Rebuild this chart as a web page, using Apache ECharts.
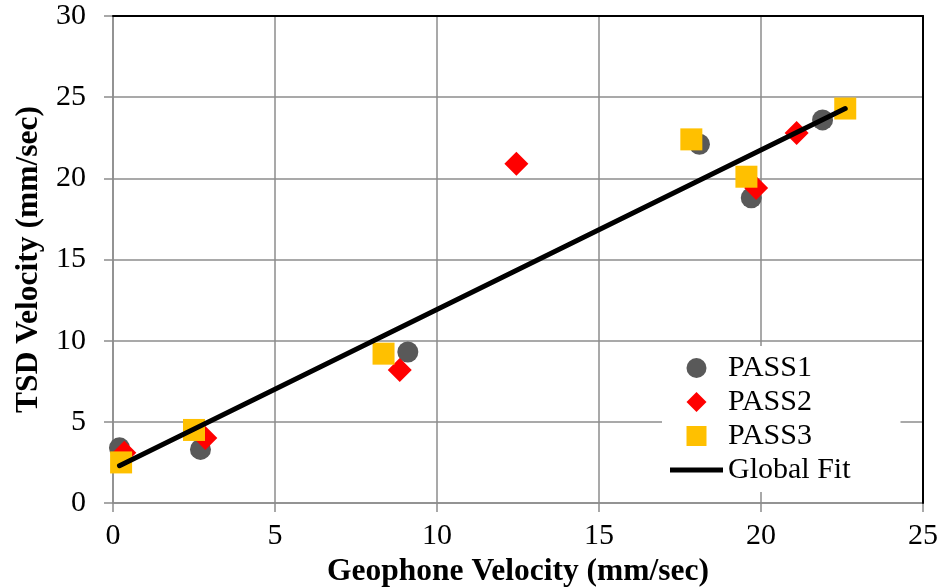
<!DOCTYPE html>
<html>
<head>
<meta charset="utf-8">
<title>TSD vs Geophone Velocity</title>
<script src="https://cdn.jsdelivr.net/npm/echarts@6/dist/echarts.min.js"></script>
<style>
  html, body { margin: 0; padding: 0; background: #fff; }
  #chart { width: 951px; height: 587px; }
</style>
</head>
<body>
<div id="chart"></div>
<script>
// Measured velocities (mm/sec) for each pass
const pass1X = [0.2, 2.7, 9.1, 18.1, 19.7, 21.9];
const pass1Y = [3.4, 3.3, 9.3, 22.1, 18.8, 23.6];
const pass2X = [0.35, 2.85, 8.85, 12.45, 19.85, 21.1];
const pass2Y = [3.1, 4.0, 8.2, 20.9, 19.4, 22.8];
const pass3X = [0.25, 2.5, 8.35, 17.85, 19.55, 22.6];
const pass3Y = [2.5, 4.5, 9.2, 22.4, 20.1, 24.3];
// Global linear fit end points
const fitX = [0.2, 22.6];
const fitY = [2.3, 24.3];

const seriesNames = ['PASS1', 'PASS2', 'PASS3', 'Global Fit'];
const xAxisName = 'Geophone Velocity (mm/sec)';
const yAxisName = 'TSD Velocity (mm/sec)';

const pairs = (xs, ys) => xs.map((x, i) => [x, ys[i]]);

const FONT = '"Liberation Serif", "Times New Roman", serif';
const GRID_GREY = '#8c8c8c';
const COLORS = ['#595959', '#ff0000', '#ffc000', '#000000'];

// Legend icons: unit shapes drawn with their aspect ratio kept
const ICONS = [
  'circle',
  'path://M0,-1L1,0L0,1L-1,0Z',
  'path://M0,0H1V1H0Z',
  'path://M0,0H53V5H0Z'
];

const chart = echarts.init(document.getElementById('chart'), null, { renderer: 'canvas' });

chart.setOption({
  animation: false,
  backgroundColor: '#ffffff',
  textStyle: { fontFamily: FONT, color: '#000' },
  grid: {
    left: 113, right: 28, top: 16, bottom: 84,
    containLabel: false,
    outerBoundsMode: 'none'
  },
  legend: {
    orient: 'vertical',
    left: 662,
    top: 346,
    padding: [7, 50, 7, 8],
    itemWidth: 53,
    itemHeight: 20,
    itemGap: 4,
    symbolKeepAspect: true,
    backgroundColor: '#ffffff',
    textStyle: { fontFamily: FONT, fontSize: 30, color: '#000', lineHeight: 29 },
    data: seriesNames.map((n, i) => ({
      name: n,
      icon: ICONS[i],
      itemStyle: { color: COLORS[i], opacity: 1, borderWidth: 0 }
    }))
  },
  xAxis: [{
    type: 'value',
    min: 0, max: 25, interval: 5,
    name: xAxisName,
    nameLocation: 'middle',
    nameGap: 49,
    nameTextStyle: { fontFamily: FONT, fontSize: 31.5, fontWeight: 'bold', color: '#000' },
    axisLine: { show: true, lineStyle: { color: GRID_GREY, width: 1.5 } },
    axisTick: { show: true, inside: false, length: 9, lineStyle: { color: GRID_GREY, width: 1.5 } },
    axisLabel: { fontFamily: FONT, fontSize: 30, color: '#000', margin: 18 },
    splitLine: { show: true, lineStyle: { color: GRID_GREY, width: 1.5 } }
  }, {
    type: 'value', position: 'top',
    min: 0, max: 25, interval: 5,
    axisLine: { show: true, onZero: false, lineStyle: { color: '#000', width: 2 } },
    axisTick: { show: false }, axisLabel: { show: false }, splitLine: { show: false },
    z: 5
  }],
  yAxis: [{
    type: 'value',
    min: 0, max: 30, interval: 5,
    name: yAxisName,
    nameLocation: 'middle',
    nameGap: 67,
    nameTextStyle: { fontFamily: FONT, fontSize: 31.5, fontWeight: 'bold', color: '#000' },
    axisLine: { show: true, lineStyle: { color: GRID_GREY, width: 1.5 } },
    axisTick: { show: true, inside: false, length: 9, lineStyle: { color: GRID_GREY, width: 1.5 } },
    axisLabel: { fontFamily: FONT, fontSize: 30, color: '#000', margin: 27 },
    splitLine: { show: true, lineStyle: { color: GRID_GREY, width: 1.5 } }
  }, {
    type: 'value', position: 'right',
    min: 0, max: 30, interval: 5,
    axisLine: { show: true, onZero: false, lineStyle: { color: '#000', width: 2 } },
    axisTick: { show: false }, axisLabel: { show: false }, splitLine: { show: false },
    z: 5
  }],
  series: [{
    name: seriesNames[0],
    type: 'scatter',
    symbol: 'circle',
    symbolSize: 21,
    itemStyle: { color: COLORS[0], opacity: 1 },
    data: pairs(pass1X, pass1Y),
    z: 2
  }, {
    name: seriesNames[1],
    type: 'scatter',
    symbol: 'diamond',
    symbolSize: 24,
    itemStyle: { color: COLORS[1], opacity: 1 },
    data: pairs(pass2X, pass2Y),
    z: 3
  }, {
    name: seriesNames[2],
    type: 'scatter',
    symbol: 'rect',
    symbolSize: 22,
    itemStyle: { color: COLORS[2], opacity: 1 },
    data: pairs(pass3X, pass3Y),
    z: 4
  }, {
    name: seriesNames[3],
    type: 'line',
    symbol: 'none',
    showSymbol: false,
    itemStyle: { color: COLORS[3] },
    lineStyle: { color: COLORS[3], width: 5, cap: 'round' },
    data: pairs(fitX, fitY),
    z: 6
  }]
});
</script>
</body>
</html>
